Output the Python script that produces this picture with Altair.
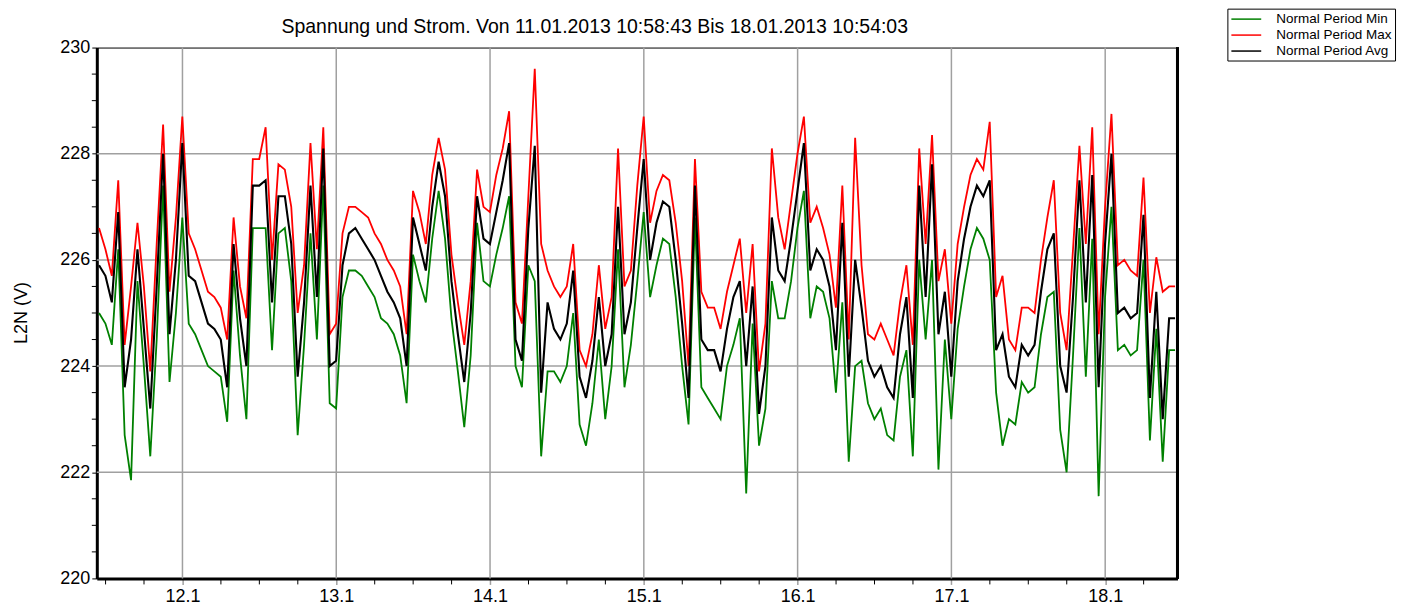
import altair as alt
import pandas as pd

title_text = "Spannung und Strom. Von 11.01.2013 10:58:43 Bis 18.01.2013 10:54:03"
y_title = "L2N (V)"
series_names = ["Normal Period Min", "Normal Period Max", "Normal Period Avg"]
series_colors = ["#008000", "#ff0000", "#000000"]
series_widths = [1.8, 1.8, 2.1]
start_time = "2013-01-11 10:58:43"
end_time = "2013-01-18 10:54:03"

# hourly readings (V) from 11.01 10:58 onwards
v_min = [225.0, 224.8, 224.4, 226.2, 222.7, 221.85, 225.6, 224.0, 222.3, 224.5,
         227.4, 223.7, 225.0, 226.8, 224.8, 224.6, 224.3, 224.0, 223.9, 223.8,
         222.95, 225.8, 224.2, 223.0, 226.6, 226.6, 226.6, 224.3, 226.5, 226.6,
         225.6, 222.7, 224.4, 226.5, 224.5, 227.4, 223.3, 223.2, 225.3, 225.8,
         225.8, 225.7, 225.5, 225.3, 224.9, 224.8, 224.6, 224.2, 223.3, 226.1,
         225.6, 225.2, 226.4, 227.3, 226.4, 224.9, 223.9, 222.85, 224.2, 226.7,
         225.6, 225.5, 226.1, 226.6, 227.2, 224.0, 223.6, 225.9, 225.6, 222.3,
         223.9, 223.9, 223.7, 224.0, 225.0, 222.9, 222.5, 223.3, 224.5, 223.0,
         224.0, 226.2, 223.6, 224.4, 225.6, 226.9, 225.3, 225.9, 226.4, 226.3,
         225.3, 224.0, 222.9, 226.8, 223.6, 223.4, 223.2, 223.0, 224.0, 224.4,
         224.9, 221.6, 224.8, 222.5, 223.2, 225.6, 224.9, 224.9, 225.6, 226.6,
         227.3, 224.9, 225.5, 225.4, 224.9, 223.5, 225.2, 222.2, 224.0, 224.1,
         223.3, 223.0, 223.2, 222.7, 222.6, 223.8, 224.3, 222.3, 226.0, 224.5,
         226.0, 222.05, 224.5, 223.0, 224.7, 225.5, 226.2, 226.6, 226.4, 226.0,
         223.5, 222.5, 223.0, 222.9, 223.7, 223.5, 223.6, 224.6, 225.3, 225.4,
         222.8, 222.0, 224.2, 226.6, 223.8, 226.4, 221.55, 225.3, 227.0, 224.3,
         224.4, 224.2, 224.3, 226.0, 222.6, 224.7, 222.2, 224.3]
v_avg = [225.9, 225.7, 225.2, 226.9, 223.6, 224.5, 226.2, 224.7, 223.2, 225.5,
         228.0, 224.6, 226.0, 228.2, 225.7, 225.6, 225.2, 224.8, 224.7, 224.5,
         223.6, 226.3, 224.9, 224.0, 227.4, 227.4, 227.5, 225.2, 227.2, 227.2,
         226.3, 223.8, 225.2, 227.4, 225.3, 228.1, 224.0, 224.1, 225.9, 226.5,
         226.6, 226.4, 226.2, 226.0, 225.7, 225.4, 225.2, 224.9, 224.0, 226.8,
         226.3, 225.8, 227.0, 227.85, 227.2, 225.6, 224.6, 223.7, 225.0, 227.2,
         226.4, 226.3, 226.9, 227.5, 228.2, 224.5, 224.1, 226.6, 228.15, 223.5,
         225.2, 224.7, 224.5, 224.8, 225.8, 223.8, 223.4, 224.1, 225.3, 224.0,
         224.6, 227.0, 224.6, 225.2, 226.6, 227.9, 226.0, 226.7, 227.1, 227.0,
         226.0, 224.8, 223.4, 227.4, 224.5, 224.3, 224.3, 223.9, 224.7, 225.3,
         225.6, 224.0, 225.5, 223.1, 224.0, 226.8, 225.8, 225.6, 226.4, 227.3,
         228.2, 225.8, 226.2, 226.0, 225.5, 224.3, 226.7, 223.8, 226.0, 225.1,
         224.1, 223.8, 224.0, 223.6, 223.4, 224.6, 225.3, 223.4, 227.4, 225.3,
         227.8, 224.6, 225.4, 223.8, 225.6, 226.4, 227.0, 227.4, 227.2, 227.5,
         224.3, 224.6, 223.8, 223.6, 224.4, 224.2, 224.4, 225.4, 226.2, 226.5,
         224.0, 223.5, 225.3, 227.5, 225.2, 227.6, 223.6, 226.3, 228.0, 225.0,
         225.1, 224.9, 225.0, 226.85, 223.4, 225.4, 223.0, 224.9]
v_max = [226.6, 226.2, 225.7, 227.5, 224.4, 225.5, 226.7, 225.5, 223.9, 226.3,
         228.55, 225.4, 226.8, 228.7, 226.5, 226.2, 225.8, 225.4, 225.3, 225.1,
         224.5, 226.8, 225.5, 224.9, 227.9, 227.9, 228.5, 226.0, 227.8, 227.7,
         227.0, 225.0, 225.9, 228.2, 226.2, 228.5, 224.6, 224.8, 226.5, 227.0,
         227.0, 226.9, 226.8, 226.5, 226.3, 226.0, 225.8, 225.5, 224.6, 227.3,
         226.9, 226.3, 227.6, 228.3, 227.7, 226.1, 225.2, 224.4, 225.6, 227.7,
         227.0, 226.9, 227.6, 228.1, 228.8, 225.2, 224.8, 227.2, 229.6, 226.3,
         225.8, 225.5, 225.3, 225.5, 226.3, 224.3, 224.0, 224.6, 225.9, 224.7,
         225.3, 228.1, 225.5, 225.8, 227.4, 228.7, 226.7, 227.3, 227.6, 227.5,
         226.7, 225.6, 224.0, 227.9, 225.4, 225.1, 225.1, 224.7, 225.4, 225.9,
         226.4, 225.0, 226.3, 223.9, 224.8, 228.1, 226.8, 226.2, 227.1, 228.0,
         228.7, 226.7, 227.0, 226.6, 226.1, 225.1, 227.4, 224.5, 228.3, 225.9,
         224.6, 224.5, 224.8, 224.5, 224.2, 225.2, 225.9, 224.4, 228.1, 226.3,
         228.35, 225.6, 226.2, 224.8, 226.3, 227.0, 227.6, 227.9, 227.7, 228.6,
         225.3, 225.7, 224.5, 224.3, 225.1, 225.1, 225.0, 226.0, 226.8, 227.5,
         225.0, 224.3, 226.2, 228.15, 226.3, 228.5, 224.6, 227.0, 228.75, 225.9,
         226.0, 225.8, 225.7, 227.55, 225.0, 226.05, 225.4, 225.5]

y_labels = [220, 222, 224, 226, 228, 230]
y_minor = [220.5, 221, 221.5, 222.5, 223, 223.5, 224.5, 225, 225.5, 226.5, 227,
           227.5, 228.5, 229, 229.5]
y_grid = [222, 224, 226, 228]
day_labels = [12, 13, 14, 15, 16, 17, 18]
x_minor_hours = [12, 18, 30, 36, 42, 54, 60, 66, 78, 84, 90, 102, 108, 114,
                 126, 132, 138, 150, 156, 162, 174]  # hours after 11.01 00:00

W, H = 1083, 532

times = list(pd.date_range(start_time, periods=len(v_avg), freq="h")) + [pd.Timestamp(end_time)]
rows = []
for name, vals in zip(series_names, [v_min, v_max, v_avg]):
    vv = list(vals) + [vals[-1]]
    for t, v in zip(times, vv):
        rows.append({"time": t.strftime("%Y-%m-%dT%H:%M:%S"), "value": v, "series": name})
df = pd.DataFrame(rows)

day0 = pd.Timestamp("2013-01-11 00:00:00")
vgrid_df = pd.DataFrame({"time": [pd.Timestamp(2013, 1, d).strftime("%Y-%m-%dT%H:%M:%S")
                                  for d in day_labels]})
xminor_df = pd.DataFrame({"time": [(day0 + pd.Timedelta(hours=h)).strftime("%Y-%m-%dT%H:%M:%S")
                                   for h in x_minor_hours]})
hgrid_df = pd.DataFrame({"value": y_grid})
yminor_df = pd.DataFrame({"value": y_minor})
title_df = pd.DataFrame({"label": [title_text]})
ytitle_df = pd.DataFrame({"label": [y_title]})

FONT = "Liberation Sans"
xscale = alt.Scale(domain=[alt.DateTime(year=2013, month=1, date=11, hours=10, minutes=38),
                           alt.DateTime(year=2013, month=1, date=18, hours=11, minutes=17)],
                   nice=False)
yscale = alt.Scale(domain=[220, 230], nice=False, zero=False)

x_axis = alt.Axis(values=[alt.DateTime(year=2013, month=1, date=d) for d in day_labels],
                  format="%-d.%-m",
                  grid=False, tickSize=6, tickColor="#a0a0a0", tickWidth=1.5,
                  domainColor="black", domainWidth=3,
                  labelFontSize=18, labelFont=FONT, labelColor="black",
                  labelPadding=3, labelOverlap=False, labelFlush=False, title=None)
y_axis = alt.Axis(values=y_labels, format="d",
                  grid=False, tickSize=5, tickColor="black", tickWidth=1,
                  domainColor="black", domainWidth=3,
                  labelFontSize=18, labelFont=FONT, labelColor="black",
                  labelPadding=2, labelOverlap=False, labelFlush=False, title=None)

color_enc = alt.Color("series:N",
                      scale=alt.Scale(domain=series_names, range=series_colors),
                      legend=alt.Legend(orient="none", legendX=1133, legendY=-39,
                                        title=None, symbolType="M-1,0H3.6",
                                        symbolSize=169, symbolStrokeWidth=1.5,
                                        labelFont=FONT, labelFontSize=13.5,
                                        labelColor="black", labelOffset=31,
                                        strokeColor="black", fillColor="white",
                                        padding=3, rowPadding=2, labelLimit=300))

X = alt.X("time:T", scale=xscale, axis=x_axis)
Y = alt.Y("value:Q", scale=yscale, axis=y_axis)

vgrid = alt.Chart(vgrid_df).mark_rule(color="#a0a0a0", strokeWidth=1.5).encode(
    x=X, y=alt.value(0), y2=alt.value(H))
hgrid = alt.Chart(hgrid_df).mark_rule(color="#a0a0a0", strokeWidth=1.5).encode(
    y=Y, x=alt.value(0), x2=alt.value(W))
xminor = alt.Chart(xminor_df).mark_rule(color="black", strokeWidth=1).encode(
    x=X, y=alt.value(H), y2=alt.value(H + 6))
yminor = alt.Chart(yminor_df).mark_rule(color="black", strokeWidth=1).encode(
    y=Y, x=alt.value(-5), x2=alt.value(0))

base = alt.Chart(df)
layers = []
for name, sw in zip(series_names, series_widths):
    layers.append(
        base.transform_filter(alt.datum.series == name)
        .mark_line(interpolate="linear", strokeWidth=sw, strokeJoin="miter")
        .encode(x=X, y=Y, color=color_enc)
    )

right_frame = alt.Chart(hgrid_df).mark_rule(color="black", strokeWidth=3).encode(
    x=alt.value(W), y=alt.value(0), y2=alt.value(H))

title_mark = alt.Chart(title_df).mark_text(
    font=FONT, fontSize=19.5, color="black", align="center", baseline="middle"
).encode(text="label:N", x=alt.value(499), y=alt.value(-21))

ytitle_mark = alt.Chart(ytitle_df).mark_text(
    font=FONT, fontSize=18, color="black", align="center", baseline="middle", angle=270
).encode(text="label:N", x=alt.value(-75), y=alt.value(H / 2))

chart = alt.layer(vgrid, hgrid, xminor, yminor, *layers, right_frame,
                  title_mark, ytitle_mark).properties(
    width=W, height=H,
    autosize=alt.AutoSizeParams(type="none"),
    padding={"left": 89, "top": 39, "right": 230, "bottom": 30},
).configure(font=FONT).configure_view(stroke="black", strokeWidth=1)

chart.save("out.html", embed_options={"renderer": "svg", "actions": False})
